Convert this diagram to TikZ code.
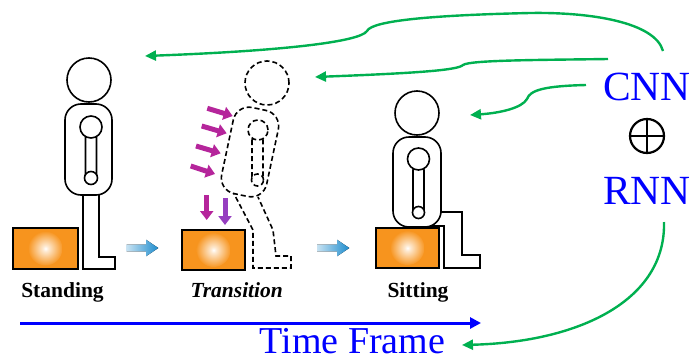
\documentclass[tikz,border=0pt]{standalone}
\usepackage{fontspec}
\setmainfont{Liberation Serif}
\usetikzlibrary{arrows.meta}

\definecolor{cgreen}{RGB}{0,176,80}
\definecolor{pushm}{RGB}{181,37,155}
\definecolor{pushv}{RGB}{150,62,192}
\definecolor{orng}{RGB}{247,148,30}
\definecolor{flow}{RGB}{30,140,205}

% bright spot in the middle of a crate
\pgfdeclareradialshading{glow}{\pgfpoint{0bp}{0bp}}{%
  color(0bp)=(white); color(4bp)=(white!80!orng); color(26bp)=(orng);
  color(50bp)=(orng)}

\tikzset{
  fig/.style={line width=1.6pt, draw=black},
  tfig/.style={fig, dash pattern=on 5pt off 3pt},
  push/.style={line width=5pt, -{Triangle[length=9pt,width=13pt]}},
  flowarrow/.style={left color=flow!25, right color=flow},
  conn/.style={draw=cgreen, line width=2.4pt, -{Triangle[length=11pt,width=10pt]}},
  timeax/.style={draw=blue, line width=3pt, -{Triangle[length=11pt,width=11pt]}},
  lab/.style={font=\fontsize{21.5}{24}\selectfont\bfseries, inner sep=0pt},
  nn/.style={text=blue, font=\fontsize{41.5}{44}\selectfont, inner sep=0pt},
}

% crate: orange box, glowing centre, black border
\newcommand{\crate}[4]{%
  \fill[orng] (#1,#2) rectangle (#3,#4);
  \shade[shading=glow] ({(#1+#3)/2},{(#2+#4)/2}) circle[radius=17pt];
  \draw[line width=1.5pt] (#1,#2) rectangle (#3,#4);}

\begin{document}
\begin{tikzpicture}[x=1pt, y=-1pt]
\useasboundingbox (0,0) rectangle (691,362);

% ---------- standing person ----------
\crate{13}{228}{78}{269}
\draw[fig, fill=white] (83,190) -- (83,269) -- (115,269) -- (115,257) -- (99,257) -- (99,190);
\draw[fig, fill=white, rounded corners=16pt] (65,104) rectangle (112,195);
\draw[fig, fill=white] (89,80) circle[radius=22pt];
\draw[fig, fill=white, rounded corners=5pt] (85.5,132) rectangle (96.5,182);
\draw[fig, fill=white] (91,178) circle[radius=6.5pt];
\draw[fig, fill=white] (91,127) circle[radius=11pt];

% ---------- person in transition ----------
\crate{182}{230}{245}{270}
\draw[tfig] (232,190) -- (253,230) -- (253,268) -- (291,268) -- (291,256)
  -- (276,256) -- (273,230) -- (258,197);
\begin{scope}[shift={(250,152)}, rotate=-12]
  \draw[tfig, fill=white, rounded corners=16pt] (-23,-44) rectangle (23,44);
\end{scope}
\draw[tfig, fill=white] (267,83) circle[radius=22pt];
\draw[tfig, fill=white, rounded corners=5pt] (252,135) rectangle (263,183);
\draw[tfig, fill=white] (257.5,180) circle[radius=6pt];
\draw[tfig, fill=white] (258,130) circle[radius=10pt];

% pushing forces
\draw[push, pushm] (207.3,108.3) -- (232.7,116);
\draw[push, pushm] (201.7,126) -- (226.7,133.3);
\draw[push, pushm] (196,146) -- (220.7,153.3);
\draw[push, pushm] (190.7,166) -- (215,174);
\draw[push, pushm] (206.7,195) -- (206.7,220);
\draw[push, pushv] (225,198) -- (225,225);

% ---------- sitting person ----------
\draw[fig, fill=white] (430,212) -- (462,212) -- (462,255) -- (480,255) -- (480,268)
  -- (444,268) -- (444,226) -- (430,226) -- cycle;
\crate{376}{228}{439}{268}
\draw[fig, fill=white, rounded corners=16pt] (393,137) rectangle (441,227);
\draw[fig, fill=white] (417,113) circle[radius=22pt];
\draw[fig, fill=white, rounded corners=5pt] (413,165) rectangle (424,215);
\draw[fig, fill=white] (418.5,212.5) circle[radius=6pt];
\draw[fig, fill=white] (418.5,159) circle[radius=11pt];

% ---------- progression arrows ----------
\fill[flowarrow] (126.7,244.7) -- (146,244.7) -- (146,239.7) -- (158.3,248)
  -- (146,256.3) -- (146,251.3) -- (126.7,251.3) -- cycle;
\fill[flowarrow] (317,244.7) -- (337,244.7) -- (337,239.7) -- (349.3,248)
  -- (337,256.3) -- (337,251.3) -- (317,251.3) -- cycle;

% ---------- labels ----------
\node[lab, anchor=base] (lstand) at (62.5,297) {Standing};
\node[lab, anchor=base] (ltrans) at (236.7,297) {\itshape Transition};
\node[lab, anchor=base] (lsit) at (418,297) {Sitting};

% ---------- time axis ----------
\coordinate (t0) at (20,323);
\coordinate (t1) at (481,323);
\draw[timeax] (t0) -- (t1);
\node[nn, font=\fontsize{38}{42}\selectfont, anchor=base] (tf) at (352.5,353) {Time Frame};

% ---------- model ----------
\node[nn, anchor=base] (cnn) at (647,100) {CNN};
\node[nn, anchor=base] (rnn) at (647,204) {RNN};
\node[circle, draw, line width=2.2pt, minimum size=34pt, inner sep=0pt] (plus) at (647,136) {};
\draw[line width=2.2pt] (plus.north) -- (plus.south) (plus.west) -- (plus.east);

% ---------- model outputs ----------
\coordinate (a1s) at (663,51);
\coordinate (a1e) at (145,56);
\coordinate (a2s) at (608,59);
\coordinate (a2e) at (315,77);
\coordinate (a3s) at (586,85);
\coordinate (a3e) at (470,115);
\coordinate (a4s) at (664,222);
\coordinate (a4e) at (462,345);

\draw[conn] (a1s) .. controls (655,22) and (590,12) .. (530,13)
  .. controls (440,15) and (372,20) .. (367,31)
  .. controls (360,42) and (280,51) .. (a1e);
\draw[conn] (a2s) .. controls (540,60) and (470,60) .. (463,65)
  .. controls (458,70) and (420,73) .. (a2e);
\draw[conn] (a3s) .. controls (545,86) and (530,90) .. (527,99)
  .. controls (522,108) and (500,113) .. (a3e);
\draw[conn] (a4s) .. controls (666,300) and (580,342) .. (a4e);
\end{tikzpicture}
\end{document}
